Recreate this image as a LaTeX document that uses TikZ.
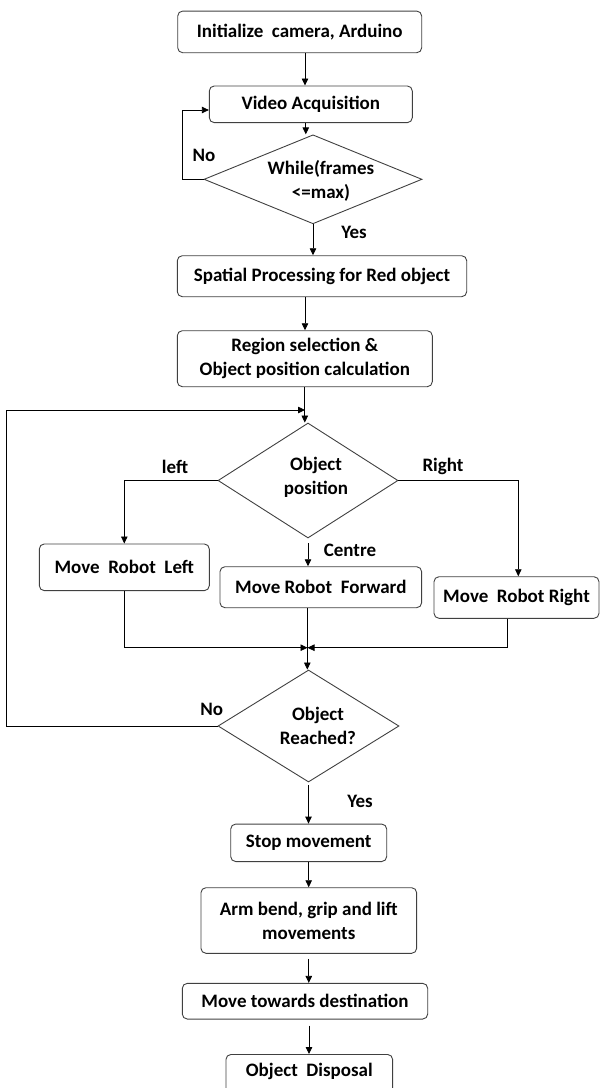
\documentclass[tikz,border=0pt]{standalone}
\usepackage{fontspec}
\setmainfont{Carlito}
\usetikzlibrary{shapes.geometric,arrows.meta,calc}
\begin{document}
\begin{tikzpicture}[x=1pt,y=-1pt,
  every node/.style={font=\bfseries\fontsize{19}{24}\selectfont},
  box/.style={draw=black!75,line width=0.9pt,rounded corners=5pt,align=center,inner sep=0pt},
  dec/.style={draw=black!75,line width=0.9pt,diamond,inner sep=0pt},
  lbl/.style={align=center,inner sep=0pt},
  arr/.style={draw=black,line width=0.8pt,-{Triangle[length=7pt,width=6.5pt]}},
  ln/.style={draw=black!80,line width=0.8pt}]
\useasboundingbox (0,0) rectangle (601,1088);
\clip (0,0) rectangle (601,1088);

% nodes
\node[box,minimum width=244,minimum height=41.7] (init) at (299.7,31.9) {Initialize\ \ camera, Arduino};
\node[box,minimum width=203,minimum height=36.7] (video) at (310.8,104.3) {Video Acquisition};
\node[dec,minimum width=218,minimum height=89] (while) at (313,179.3) {};
\node[lbl] (whilet) at (321,181) {While(frames\\<=max)};
\node[box,minimum width=289.4,minimum height=41] (spatial) at (322,276.2) {Spatial Processing for Red object};
\node[box,minimum width=255,minimum height=56] (region) at (304.8,358.7) {Region selection \&\\Object position calculation};
\node[dec,minimum width=180,minimum height=115] (objpos) at (308,480.5) {};
\node[lbl] (objpost) at (316,477.5) {Object\\position};
\node[box,minimum width=170,minimum height=46.7] (left) at (124.3,567.3) {Move\ \ Robot\ \ Left};
\node[box,minimum width=201.7,minimum height=41] (forward) at (320.8,587.2) {Move Robot\ \ Forward};
\node[box,minimum width=165,minimum height=41.6] (right) at (516.5,597.5) {Move\ \ Robot Right};
\node[dec,minimum width=181,minimum height=112] (reached) at (308.5,726) {};
\node[lbl] (reachedt) at (318,726) {Object\\Reached?};
\node[box,minimum width=156,minimum height=37.5] (stop) at (308.7,842.8) {Stop movement};
\node[box,minimum width=215.7,minimum height=65.6] (arm) at (308.8,920.5) {Arm bend, grip and lift\\movements};
\node[box,minimum width=245.4,minimum height=35.7] (towards) at (305,1001.2) {Move towards destination};
\node[box,minimum width=166.7,minimum height=46,anchor=north] (disposal) at (309.3,1054) {};
\node[lbl] (disposalt) at (309.3,1071) {Object\ \ Disposal};

% labels
\node[lbl] (no1) at (204,155) {No};
\node[lbl] (yes1) at (354,232) {Yes};
\node[lbl] (lleft) at (175,466.7) {left};
\node[lbl] (lright) at (443,466.7) {Right};
\node[lbl] (lcentre) at (350,550) {Centre};
\node[lbl] (no2) at (211.7,709.3) {No};
\node[lbl] (yes2) at (360,801) {Yes};

\coordinate (j) at (307.5,647.7);
\coordinate (lp) at (305,410);

% connectors
\draw[arr] ([xshift=5.3pt]init.south) -- ([xshift=5.3pt]init.south |- video.north);
\draw[arr] ([xshift=-5pt]video.south) -- ([xshift=-5pt]video.south |- while.north);
\draw[arr] (while.west) -- ++(-21,0) |- ([yshift=-5.7pt]video.west);
\draw[arr] (while.south) -- (while.south |- spatial.north);
\draw[arr] ([xshift=-17pt]spatial.south) -- ([xshift=-17pt]spatial.south |- region.north);
\draw[arr] (region.south) -- (region.south |- objpos.north);
\draw[arr] (objpos.west) -| (left.north);
\draw[arr] (objpos.east) -| ([xshift=1.8pt]right.north);
\draw[arr] ([yshift=-5pt]objpos.south) -- (objpos.south |- forward.north);
\draw[arr] (left.south) |- (j);
\draw[arr] ([xshift=-9.2pt]right.south) |- (j);
\draw[arr] ([xshift=-13.5pt]forward.south) -- ([xshift=-13.5pt]forward.south |- reached.north);
\draw[arr] (reached.west) -- ++(-211,0) |- (lp);
\draw[arr] ([yshift=-3pt]reached.south) -- (reached.south |- stop.north);
\draw[arr] (stop.south) -- (stop.south |- arm.north);
\draw[arr] ([yshift=-5pt]arm.south) -- (arm.south |- towards.north);
\draw[arr] ([xshift=4pt,yshift=-6pt]towards.south) -- ([xshift=4pt]towards.south |- disposal.north);
\end{tikzpicture}
\end{document}
